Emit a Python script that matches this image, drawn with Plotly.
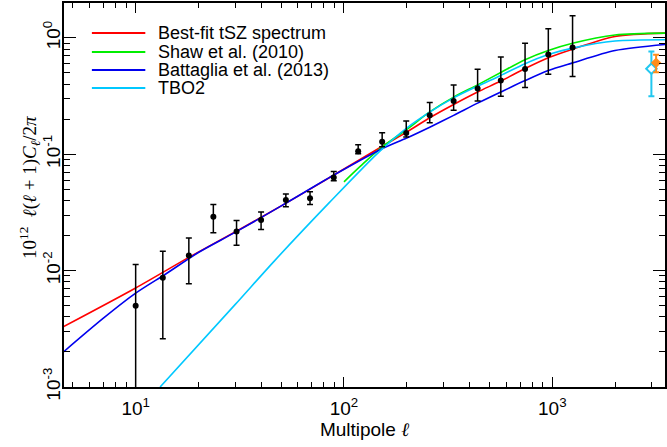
import plotly.graph_objects as go

# binned tSZ power spectrum (black points), 10^12 l(l+1)C_l/2pi
ell = [10, 13.5, 18, 23.6, 30.5, 40, 52.6, 68.7, 89.3, 117, 152.5, 199,
       258, 336, 438, 566, 740, 957, 1251]
cl = [0.0050, 0.0087, 0.0135, 0.0291, 0.0217, 0.0272, 0.0404, 0.0418, 0.0632,
      0.106, 0.128, 0.152, 0.216, 0.287, 0.367, 0.431, 0.54, 0.72, 0.828]
cl_hi = [0.0113, 0.0147, 0.0191, 0.0371, 0.027, 0.0319, 0.0455, 0.0477, 0.0711,
         0.121, 0.153, 0.193, 0.279, 0.394, 0.537, 0.684, 0.90, 1.20, 1.55]
cl_lo = [0.0, 0.0026, 0.0077, 0.0212, 0.0165, 0.0226, 0.0354, 0.0371, 0.0593,
         0.101, 0.116, 0.141, 0.187, 0.239, 0.287, 0.315, 0.374, 0.486, 0.467]

# extra points at high ell
cyan_pt = dict(ell=[2990], cl=[0.544], hi=[0.766], lo=[0.316])
orange_pt = dict(ell=[3150], cl=[0.612], hi=[0.717], lo=[0.506])

# model curves
bestfit_ell = [4.5, 10, 18, 30, 50, 89, 150, 200, 258, 336, 438, 566, 740, 957, 1251, 2000, 3500]
bestfit_cl = [0.0033, 0.0071, 0.013, 0.0215, 0.036, 0.066, 0.115, 0.155, 0.206, 0.268,
              0.343, 0.426, 0.545, 0.675, 0.80, 1.03, 1.10]

shaw_ell = [100, 120, 150, 200, 258, 336, 438, 566, 740, 957, 1251, 2000, 3500]
shaw_cl = [0.058, 0.079, 0.113, 0.163, 0.231, 0.31, 0.395, 0.505, 0.65, 0.78, 0.90, 1.06, 1.10]

batt_ell = [4.5, 7, 10, 14, 20, 30, 50, 89, 150, 200, 258, 336, 438, 566, 740, 957, 1251, 2000, 3500]
batt_cl = [0.0020, 0.0039, 0.0064, 0.0094, 0.0143, 0.0213, 0.036, 0.066, 0.110, 0.138, 0.171,
           0.216, 0.275, 0.343, 0.43, 0.525, 0.61, 0.78, 0.88]

tbo_ell = [13.1, 30, 46.5, 85, 147, 200, 258, 336, 438, 566, 740, 957, 1251, 2000, 3500]
tbo_cl = [0.001, 0.0051, 0.0122, 0.0384, 0.1045, 0.168, 0.23, 0.305, 0.385, 0.476, 0.60,
          0.72, 0.817, 0.94, 0.965]

curves = [
    ("Best-fit tSZ spectrum", bestfit_ell, bestfit_cl, "#ff0000"),
    ("Shaw et al. (2010)", shaw_ell, shaw_cl, "#00ee00"),
    ("Battaglia et al. (2013)", batt_ell, batt_cl, "#0000ee"),
    ("TBO2", tbo_ell, tbo_cl, "#00c8ff"),
]

x_ticks = [10, 100, 1000]
x_ticktext = ["10<sup>1</sup>", "10<sup>2</sup>", "10<sup>3</sup>"]
y_ticks = [0.001, 0.01, 0.1, 1]
y_ticktext = ["10<sup>-3</sup>", "10<sup>-2</sup>", "10<sup>-1</sup>", "10<sup>0</sup>"]
x_minor = [k * 10 ** e for e in range(0, 4) for k in range(2, 10)]
y_minor = [k * 10.0 ** e for e in range(-3, 1) for k in range(2, 10)]

fig = go.Figure()

for name, xs, ys, col in curves:
    fig.add_trace(go.Scatter(x=xs, y=ys, mode="lines", name=name,
                             line=dict(color=col, width=1.6, shape="spline", smoothing=0.8)))

# data points
fig.add_trace(go.Scatter(
    x=ell, y=cl, mode="markers",
    marker=dict(color="black", size=6),
    error_y=dict(type="data", symmetric=False,
                 array=[h - v for h, v in zip(cl_hi, cl)],
                 arrayminus=[v - l for v, l in zip(cl, cl_lo)],
                 color="black", thickness=1.5, width=3),
    showlegend=False,
))

fig.add_trace(go.Scatter(
    x=cyan_pt["ell"], y=cyan_pt["cl"], mode="markers",
    marker=dict(color="white", size=8, symbol="diamond", line=dict(color="#22c8f0", width=2)),
    error_y=dict(type="data", symmetric=False,
                 array=[cyan_pt["hi"][0] - cyan_pt["cl"][0]],
                 arrayminus=[cyan_pt["cl"][0] - cyan_pt["lo"][0]],
                 color="#22c8f0", thickness=2, width=3),
    showlegend=False,
))
fig.add_trace(go.Scatter(
    x=orange_pt["ell"], y=orange_pt["cl"], mode="markers",
    marker=dict(color="#ff8c1a", size=8, symbol="diamond"),
    error_y=dict(type="data", symmetric=False,
                 array=[orange_pt["hi"][0] - orange_pt["cl"][0]],
                 arrayminus=[orange_pt["cl"][0] - orange_pt["lo"][0]],
                 color="#ff8c1a", thickness=2, width=3),
    showlegend=False,
))

# hand-drawn legend (top left)
leg_y = [0.922, 0.8724, 0.8255, 0.7786]
for (name, _, _, col), yy in zip(curves, leg_y):
    fig.add_shape(type="line", xref="paper", yref="paper", x0=0.0464, x1=0.1353, y0=yy, y1=yy,
                  line=dict(color=col, width=2))
    fig.add_annotation(xref="paper", yref="paper", x=0.153, y=yy, text=name, showarrow=False,
                       xanchor="left", yanchor="middle",
                       font=dict(family="Liberation Sans, Arial", size=18, color="black"))

# y axis title (serif, math-like)
fig.add_annotation(
    xref="paper", yref="paper", x=-0.083, y=0.52, textangle=-90, showarrow=False,
    text="10<sup>12</sup>  <i>ℓ</i>(<i>ℓ</i> + 1)<i>C</i><sub><i>ℓ</i></sub>/2<i>π</i>",
    font=dict(family="Liberation Serif, DejaVu Serif, serif", size=19, color="black"),
)

axis_common = dict(type="log", showgrid=False, zeroline=False, showline=True, linecolor="black",
                   linewidth=1.5, mirror="ticks", ticks="inside", tickcolor="black", tickwidth=1.3,
                   tickfont=dict(family="Liberation Sans, Arial", size=19, color="black"))

fig.update_xaxes(axis_common, range=[0.656, 3.541], tickmode="array", tickvals=x_ticks,
                 ticktext=x_ticktext, ticklen=10, ticklabelstandoff=3,
                 minor=dict(tickmode="array", tickvals=x_minor, ticks="inside", ticklen=5,
                            tickcolor="black", tickwidth=1.2, showgrid=False),
                 title=dict(text="Multipole <span style='font-family:Liberation Serif'><i>ℓ</i></span>",
                            font=dict(family="Liberation Sans, Arial", size=19, color="black"),
                            standoff=4))
fig.update_yaxes(axis_common, range=[-3, 0.30], tickmode="array", tickvals=y_ticks,
                 ticktext=y_ticktext, ticklen=12, tickangle=-90, ticklabelstandoff=-5,
                 minor=dict(tickmode="array", tickvals=y_minor, ticks="inside", ticklen=6,
                            tickcolor="black", tickwidth=1.2, showgrid=False))

fig.update_layout(
    width=667, height=447,
    plot_bgcolor="white", paper_bgcolor="white",
    margin=dict(l=64, r=0, t=3, b=60),
    showlegend=False,
)

# page body has a default 8px margin; drop it so the figure fills the window
fig.write_html("out.html", config={"displayModeBar": False},
               post_script="document.body.style.margin='0';document.body.style.overflow='hidden';")
